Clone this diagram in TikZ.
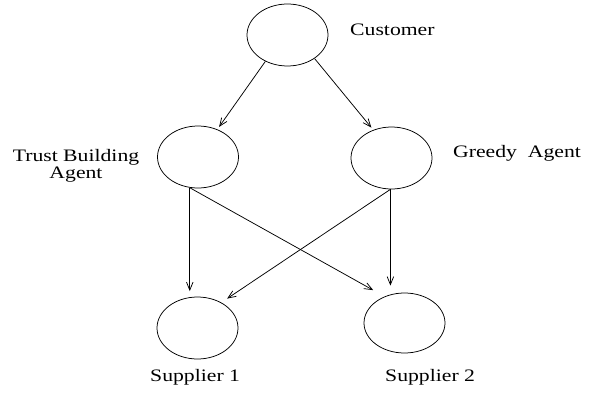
\documentclass[tikz,border=0pt]{standalone}
\usepackage{fontspec}
\setmainfont{Liberation Serif}[FakeStretch=1.24]
\usetikzlibrary{arrows.meta,shapes.geometric}
\begin{document}
\begin{tikzpicture}[x=1pt,y=-1pt,
  agent/.style={draw,ellipse,line width=0.75pt,minimum width=81pt,minimum height=62pt,inner sep=0pt},
  lbl/.style={font=\fontsize{17.5}{13}\selectfont,inner sep=0pt},
  arr/.style={line width=0.75pt,-{Straight Barb[length=8pt,width=6.5pt]}}]
\useasboundingbox (0,0) rectangle (596,393);
\node[agent] (cust) at (287.5,35) {};
\node[agent] (trust) at (198,157) {};
\node[agent] (greedy) at (391.5,158) {};
\node[agent] (s1) at (197.5,328) {};
\node[agent,minimum height=60pt] (s2) at (404.5,323) {};
\node[lbl,anchor=base west] (lc) at (350,36) {Customer};
\node[lbl,anchor=base,align=center] (lt) at (76,178) {Trust Building\\Agent};
\node[lbl,anchor=base west] (lg) at (453,157) {Greedy\ \ Agent};
\node[lbl,anchor=base west] (l1) at (150,381) {Supplier 1};
\node[lbl,anchor=base west] (l2) at (385,381) {Supplier 2};
\draw[arr,shorten >=3pt] (cust.230) -- (trust.55);
\draw[arr,shorten >=3pt] (cust.319) -- (greedy.123);
\draw[arr,shorten >=5.5pt] (trust.255) -- (trust.255 |- s1.north);
\draw[arr,shorten >=13pt] (trust.255) -- (s2.127);
\draw[arr,shorten >=7pt] (greedy.268) -- (greedy.268 |- s2.north);
\draw[arr,shorten >=7pt] (greedy.268) -- (s1.47);
\end{tikzpicture}
\end{document}
